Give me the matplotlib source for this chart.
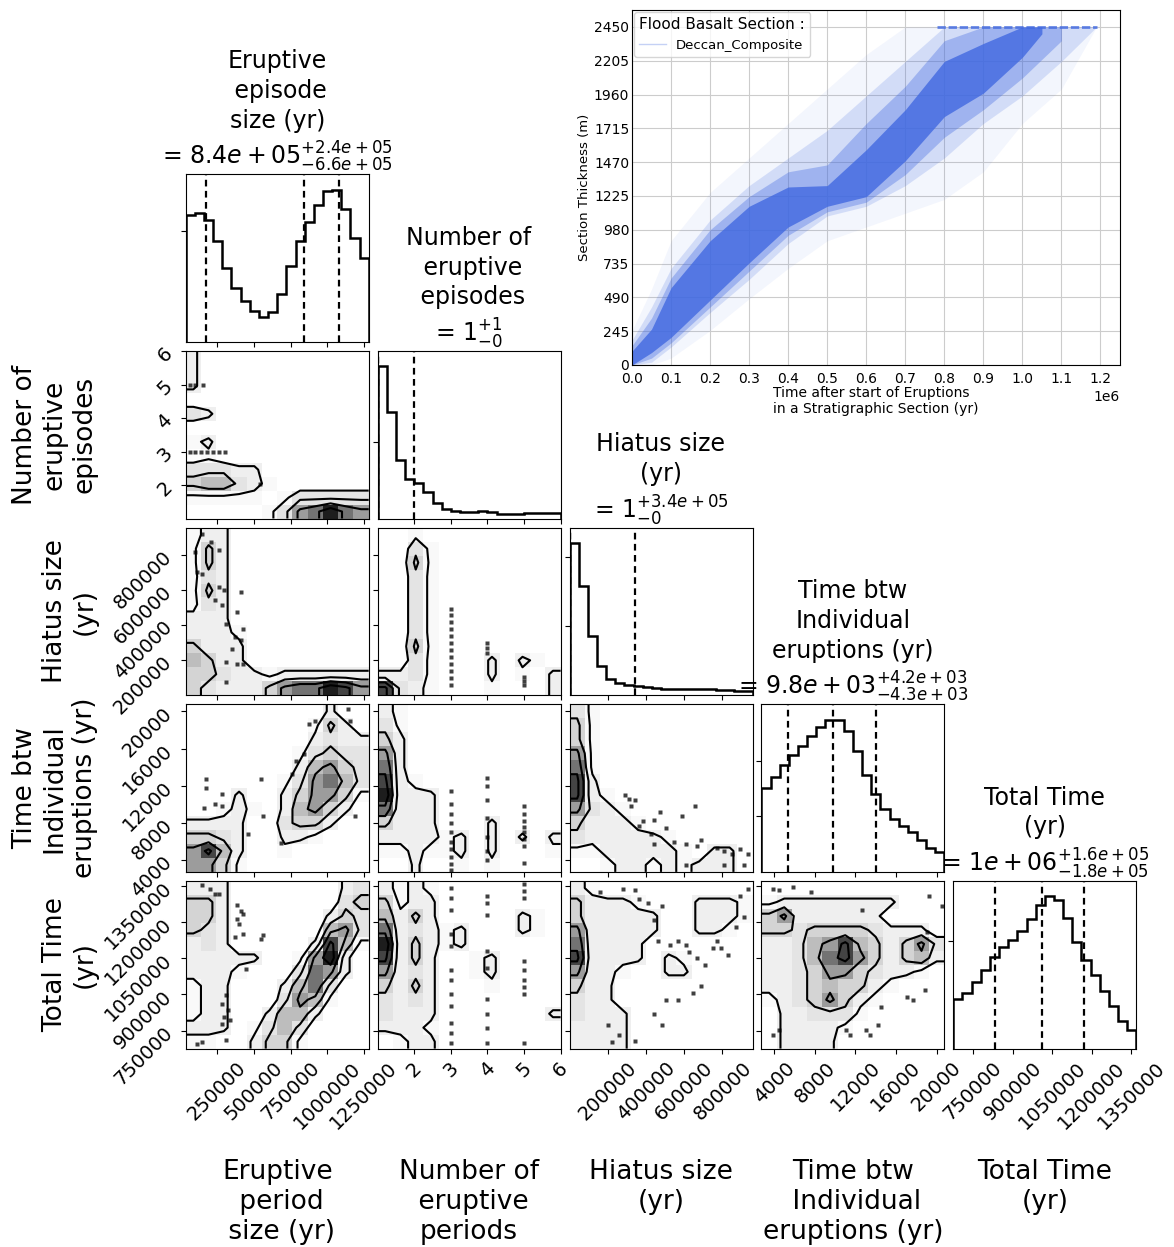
import numpy as np
import matplotlib
matplotlib.use("Agg")
import matplotlib.pyplot as plt
from matplotlib.colors import ListedColormap
from matplotlib.lines import Line2D

# ---------------- corner plot data ----------------
param_ranges = [(34000, 1284000), (1, 6), (0, 957000), (2750, 20750), (675000, 1370000)]
param_ticks = [
    [250000, 500000, 750000, 1000000, 1250000],
    [2, 3, 4, 5, 6],
    [200000, 400000, 600000, 800000],
    [4000, 8000, 12000, 16000, 20000],
    [750000, 900000, 1050000, 1200000, 1350000],
]

hist_eruptive = [1141, 1162, 1096, 907, 661, 486, 366, 276, 219, 270,
                 435, 682, 907, 1081, 1237, 1360, 1372, 1201, 937, 757]
hist_number = [1983, 1392, 767, 509, 461, 345, 207, 121, 99, 86,
               86, 99, 86, 65, 65, 56, 78, 78, 78, 78]
hist_hiatus = [2201, 1579, 852, 416, 230, 182, 153, 134, 120, 105,
               91, 91, 91, 91, 86, 86, 81, 72, 57, 57]
hist_timebtw = [1515, 1713, 1934, 2114, 2275, 2443, 2611, 2743, 2731, 2545,
                2174, 1754, 1395, 1126, 946, 826, 719, 575, 437, 359]
hist_total = [462, 517, 615, 723, 849, 938, 1009, 1086, 1200, 1332,
              1409, 1378, 1209, 988, 818, 677, 532, 394, 255, 172]
hist_counts = [hist_eruptive, hist_number, hist_hiatus, hist_timebtw, hist_total]
hist_yticks = [[1000], [1000], [1000, 2000], [1000, 2000], [1000]]

q16 = [171000, 1, 1, 5380, 833000]
q50 = [841000, 1, 1, 9750, 1011000]
q84 = [1081000, 2, 340000, 13990, 1170000]

diag_titles = [
    "Eruptive\n episode\nsize (yr)\n= $8.4e+05_{-6.6e+05}^{+2.4e+05}$",
    "Number of\n eruptive\n episodes\n= $1_{-0}^{+1}$",
    "Hiatus size\n(yr)\n= $1_{-0}^{+3.4e+05}$",
    "Time btw\nIndividual\neruptions (yr)\n= $9.8e+03_{-4.3e+03}^{+4.2e+03}$",
    "Total Time\n(yr)\n= $1e+06_{-1.8e+05}^{+1.6e+05}$",
]
left_labels = ["Number of\neruptive\nepisodes", "Hiatus size\n(yr)",
               "Time btw\nIndividual\neruptions (yr)", "Total Time\n(yr)"]
bottom_labels = ["Eruptive\n period\n size (yr)", "Number of\n eruptive\nperiods",
                 "Hiatus size\n(yr)", "Time btw\n Individual\neruptions (yr)", "Total Time\n(yr)"]

# 2D density maps (top row first, 0 = empty, 9 = darkest)
density_1_0 = ["200000000000", "200000000000", "200000000000", "000000000000",
               "320000000000", "000000000000", "120000000000", "010000000000",
               "333220000000", "455321000000", "111110133333", "000001367976"]
density_2_0 = ["122000000000", "142000000000", "142000000000", "132000000000",
               "142000000000", "132000000000", "222000000000", "222100000000",
               "422200000000", "542200000000", "443221222222", "432224677986"]
density_2_1 = ["001000000000", "003100000000", "004100000000", "003100000000",
               "003100000000", "003100000000", "003100000000", "003100000000",
               "004100000000", "003100020210", "223100020102", "832100010002"]
density_3_0 = ["000000000200", "000000001420", "000000002322", "000000013433",
               "000000025643", "000000136753", "000200246641", "001210256420",
               "222200344200", "443200221000", "685200100000", "664100000000"]
density_3_1 = ["210000000000", "310000000000", "420000000000", "620000000000",
               "720000000000", "821000000000", "922200000000", "722200000000",
               "422200020000", "222212020202", "112112020001", "002001010000"]
density_3_2 = ["310000000000", "410000000000", "410000000000", "610000000000",
               "710000000000", "820000000000", "821000000000", "632100000000",
               "422210000000", "322222100000", "112222210220", "001221212220"]
density_4_0 = ["222000000023", "442000000034", "442000000243", "432000000563",
               "232000002851", "222220016920", "222100037620", "122000257300",
               "122000365100", "122002552000", "222013530000", "110024410000"]
density_4_1 = ["212100000000", "412200000000", "524200000210", "723212000210",
               "924212000000", "824200120000", "623200120000", "424200010000",
               "323200000000", "322200000002", "222100000000", "012200000000"]
density_4_2 = ["210000000000", "422210002221", "422222002221", "622222002210",
               "722220000000", "822220210000", "622100220000", "422000000000",
               "322000000000", "322200000000", "222200000000", "222200000000"]
density_4_3 = ["000000000000", "122222222000", "462222220000", "443444432220",
               "223568542463", "223578642452", "223466432210", "223454421000",
               "123464210000", "022333100000", "022221000000", "022220000000"]
density_maps = {
    (1, 0): density_1_0, (2, 0): density_2_0, (2, 1): density_2_1,
    (3, 0): density_3_0, (3, 1): density_3_1, (3, 2): density_3_2,
    (4, 0): density_4_0, (4, 1): density_4_1, (4, 2): density_4_2, (4, 3): density_4_3,
}

# samples lying outside the contours
dots_1_0_x = [60000, 100000, 140000, 180000, 220000, 260000, 300000, 60000, 100000, 150000, 543000]
dots_1_0_y = [3, 3, 3, 3, 3, 3, 3, 5, 5, 5, 2.04]
dots_2_0_x = [148000, 210000, 260000, 97000, 109000, 148000, 260000, 298000, 411000, 235000, 285000,
              386000, 424000, 310000, 374000, 411000, 349000, 310000, 386000, 424000, 310000]
dots_2_0_y = [923000, 875000, 828000, 818000, 704000, 695000, 618000, 599000, 590000, 542000, 514000,
              476000, 381000, 409000, 333000, 314000, 266000, 190000, 181000, 177000, 76000]
dots_2_1_x = [3] * 12 + [4] * 3 + [5] * 3
dots_2_1_y = [60000, 100000, 140000, 180000, 220000, 260000, 300000, 340000, 380000, 420000,
              460000, 490000, 240000, 270000, 300000, 57000, 80000, 105000]
dots_3_0_x = [172000, 172000, 280000, 160000, 235000, 285000, 549000, 562000, 688000, 763000,
              789000, 839000, 877000, 914000, 1140000, 1153000, 1191000, 462000]
dots_3_0_y = [12700, 11800, 11080, 9660, 10020, 9840, 12700, 8760, 5900, 13240,
              14670, 15390, 18610, 18970, 20210, 18970, 8760, 6800]
dots_3_1_x = [3] * 10 + [4] * 7 + [5] * 8
dots_3_1_y = [3000, 3600, 4400, 5200, 6000, 7000, 8000, 9000, 10000, 11400,
              4000, 5000, 6500, 8500, 10500, 12000, 12800,
              3700, 5500, 6300, 7000, 7600, 8200, 9000, 9800]
dots_3_2_x = [291000, 311000, 322000, 342000, 383000, 444000, 474000, 505000, 586000, 658000,
              546000, 607000, 668000, 688000, 770000, 810000, 851000, 892000, 933000, 912000,
              810000, 607000, 444000, 362000, 424000]
dots_3_2_y = [11000, 10625, 9875, 10440, 8190, 8375, 9200, 7430, 8750, 9875,
              5940, 5750, 5560, 6125, 5370, 5000, 4620, 5180, 4620, 3500,
              3500, 3500, 5750, 7630, 6870]
dots_4_0_x = [147000, 197000, 235000, 260000, 386000, 411000, 424000, 386000, 399000, 374000,
              424000, 562000, 549000, 449000, 310000, 285000, 323000, 298000, 336000, 285000,
              147000, 109000, 310000]
dots_4_0_y = [1352000, 1338000, 1317000, 1317000, 1269000, 1248000, 1234000, 1214000, 1193000, 1138000,
              1152000, 1145000, 1131000, 1007000, 896000, 861000, 834000, 806000, 792000, 779000,
              703000, 696000, 710000]
dots_4_1_x = [3] * 12 + [4] * 9 + [5] * 9
dots_4_1_y = [700000, 740000, 780000, 850000, 900000, 960000, 1000000, 1100000, 1150000, 1250000,
              1300000, 1340000,
              700000, 760000, 820000, 880000, 1010000, 1080000, 1230000, 1280000, 1310000,
              700000, 900000, 930000, 960000, 1000000, 1040000, 1300000, 1330000, 1360000]
dots_4_2_x = [159000, 281000, 342000, 362000, 413000, 444000, 485000, 464000, 525000, 566000,
              607000, 627000, 668000, 709000, 749000, 770000, 790000, 831000, 871000, 912000,
              933000, 892000, 505000, 566000, 648000, 688000, 444000, 485000, 200000, 261000,
              342000, 220000]
dots_4_2_y = [1324000, 1338000, 1331000, 1295000, 1280000, 1208000, 1266000, 1121000, 1106000, 1121000,
              1106000, 1077000, 1049000, 1020000, 1092000, 1121000, 1092000, 1063000, 1179000, 1222000,
              1338000, 1309000, 875000, 875000, 904000, 933000, 817000, 774000, 774000, 730000,
              708000, 701000]
dots_4_3_x = [3910, 4490, 5850, 7590, 12620, 19200, 20560, 19010, 17070, 17650,
              18810, 14560, 14170, 13010, 13400, 11070, 11460, 4490, 3910]
dots_4_3_y = [1338000, 1331000, 1346000, 1324000, 1251000, 1309000, 1266000, 1157000, 889000, 875000,
              918000, 846000, 774000, 752000, 730000, 752000, 730000, 752000, 730000]
dots = {
    (1, 0): (dots_1_0_x, dots_1_0_y), (2, 0): (dots_2_0_x, dots_2_0_y),
    (2, 1): (dots_2_1_x, dots_2_1_y), (3, 0): (dots_3_0_x, dots_3_0_y),
    (3, 1): (dots_3_1_x, dots_3_1_y), (3, 2): (dots_3_2_x, dots_3_2_y),
    (4, 0): (dots_4_0_x, dots_4_0_y), (4, 1): (dots_4_1_x, dots_4_1_y),
    (4, 2): (dots_4_2_x, dots_4_2_y), (4, 3): (dots_4_3_x, dots_4_3_y),
}

# ---------------- inset (stratigraphic section) data ----------------
band_time = [0, 0.05, 0.1, 0.2, 0.3, 0.4, 0.5, 0.6, 0.7, 0.8, 0.9, 1.0, 1.1, 1.19]
faint_lo = [0, 0, 50, 250, 480, 700, 900, 1000, 1100, 1200, 1400, 1750, 2000, 2450]
faint_hi = [250, 550, 900, 1250, 1500, 1750, 2000, 2250, 2450, 2450, 2450, 2450, 2450, 2450]
mid_lo = [0, 20, 130, 380, 620, 880, 1080, 1150, 1300, 1500, 1750, 1950, 2200, 2450]
mid_hi = [180, 420, 700, 1050, 1300, 1500, 1700, 1950, 2200, 2450, 2450, 2450, 2450, 2450]
inner_time = [0, 0.05, 0.1, 0.2, 0.3, 0.4, 0.5, 0.6, 0.7, 0.8, 0.9, 1.0, 1.1]
inner_lo = [0, 50, 160, 420, 680, 940, 1110, 1180, 1380, 1650, 1850, 2080, 2350]
inner_hi = [140, 340, 630, 980, 1220, 1400, 1450, 1750, 2020, 2350, 2450, 2450, 2450]
core_time = [0, 0.05, 0.1, 0.2, 0.3, 0.4, 0.5, 0.6, 0.7, 0.8, 0.9, 1.0, 1.05]
core_lo = [0, 90, 200, 470, 740, 1000, 1150, 1220, 1480, 1800, 1970, 2230, 2400]
core_hi = [100, 260, 560, 900, 1150, 1290, 1300, 1560, 1850, 2200, 2330, 2450, 2450]
thick_ticks = [0, 245, 490, 735, 980, 1225, 1470, 1715, 1960, 2205, 2450]
time_ticks = [0, 1e5, 2e5, 3e5, 4e5, 5e5, 6e5, 7e5, 8e5, 9e5, 1e6, 1.1e6, 1.2e6]

W, H = 1174, 1247
fig = plt.figure(figsize=(W / 100, H / 100), dpi=100)

gray_cmap = ListedColormap(['#ffffff', '#f9f9f9', '#efefef', '#e3e3e3', '#d2d2d2',
                            '#bababa', '#979797', '#6b6b6b', '#3a3a3a', '#111111'])


def panel_rect(i, j):
    left = 185.7 + j * 191.9
    top = 174.3 + i * 176.7
    return [left / W, 1 - (top + 167.5) / H, 183 / W, 167.5 / H]


K = 5
for i in range(K):
    for j in range(i + 1):
        ax = fig.add_axes(panel_rect(i, j))
        xlo, xhi = param_ranges[j]
        if i == j:
            counts = np.array(hist_counts[i], float)
            edges = np.linspace(xlo, xhi, len(counts) + 1)
            ax.stairs(counts, edges, color='k', linewidth=1.8)
            for q in (q16[i], q50[i], q84[i]):
                ax.axvline(q, color='k', linewidth=1.6, linestyle=(0, (3, 2)))
            ax.set_ylim(0, 1.1 * counts.max())
            ax.set_yticks(hist_yticks[i])
            ax.set_yticklabels([])
            ax.set_title(diag_titles[i], fontsize=17, pad=5, linespacing=1.3)
        else:
            ylo, yhi = param_ranges[i]
            grid = density_maps[(i, j)]
            Z = np.array([[int(c) for c in row] for row in grid[::-1]], float)
            ny, nx = Z.shape
            xe = np.linspace(xlo, xhi, nx + 1)
            ye = np.linspace(ylo, yhi, ny + 1)
            px, py = dots[(i, j)]
            ax.plot(px, py, 's', ms=2.3, color='k', alpha=0.75, mec='none', zorder=1)
            ax.pcolormesh(xe, ye, Z, cmap=gray_cmap, vmin=-0.5, vmax=9.5, alpha=0.95, zorder=0)
            xc = np.r_[xlo, 0.5 * (xe[1:] + xe[:-1]), xhi]
            yc = np.r_[ylo, 0.5 * (ye[1:] + ye[:-1]), yhi]
            Zp = np.pad(Z, 1, mode='edge')
            ax.contour(xc, yc, Zp, levels=[1.5, 3.5, 5.5, 7.5], colors='k', linewidths=1.5, zorder=2)
            ax.set_ylim(ylo, yhi)
            ax.set_yticks(param_ticks[i])
            if j == 0:
                ax.set_yticklabels([str(t) for t in param_ticks[i]], fontsize=14, rotation=45)
                ax.set_ylabel(left_labels[i - 1], fontsize=19)
                ax.yaxis.set_label_coords(-0.48, 0.5)
            else:
                ax.set_yticklabels([])
        ax.set_xlim(xlo, xhi)
        ax.set_xticks(param_ticks[j])
        if i == K - 1:
            ax.set_xticklabels([str(t) for t in param_ticks[j]], fontsize=14, rotation=45)
            ax.set_xlabel(bottom_labels[j], fontsize=19)
            ax.xaxis.set_label_coords(0.5, -0.66)
        else:
            ax.set_xticklabels([])

# ---------------- inset ----------------
ax_in = fig.add_axes([632 / W, 1 - 365 / H, 488 / W, 355 / H])
blue = 'royalblue'
ax_in.fill_between(np.array(band_time) * 1e6, faint_lo, faint_hi, color=blue, alpha=0.06, linewidth=0)
ax_in.fill_between(np.array(band_time) * 1e6, mid_lo, mid_hi, color=blue, alpha=0.18, linewidth=0)
ax_in.fill_between(np.array(inner_time) * 1e6, inner_lo, inner_hi, color=blue, alpha=0.35, linewidth=0)
ax_in.fill_between(np.array(core_time) * 1e6, core_lo, core_hi, color=blue, alpha=0.8, linewidth=0)
ax_in.plot([0.78e6, 1.19e6], [2450, 2450], color=blue, alpha=0.8, linewidth=2, linestyle=(0, (3, 1)))
ax_in.set_xlim(0, 1.25e6)
ax_in.set_ylim(0, 2572.5)
ax_in.set_xticks(time_ticks)
ax_in.set_yticks(thick_ticks)
ax_in.tick_params(labelsize=10, length=0)
ax_in.tick_params(axis='y', pad=2)
ax_in.tick_params(axis='x', pad=5)
ax_in.set_axisbelow(True)
ax_in.grid(True, color='#cccccc', linewidth=0.8)
ax_in.set_ylabel('Section Thickness (m)', fontsize=9.5, labelpad=2)
ax_in.set_xlabel('Time after start of Eruptions\nin a Stratigraphic Section (yr)',
                 fontsize=10, multialignment='left', labelpad=0)
ax_in.xaxis.get_offset_text().set_fontsize(10)
handle = Line2D([], [], color=blue, alpha=0.3, linewidth=1)
ax_in.legend([handle], ['Deccan_Composite'], title='Flood Basalt Section :',
             loc='upper left', fontsize=9.5, title_fontsize=11, borderaxespad=0.15,
             alignment='left')

fig.savefig('out.png', dpi=100)
